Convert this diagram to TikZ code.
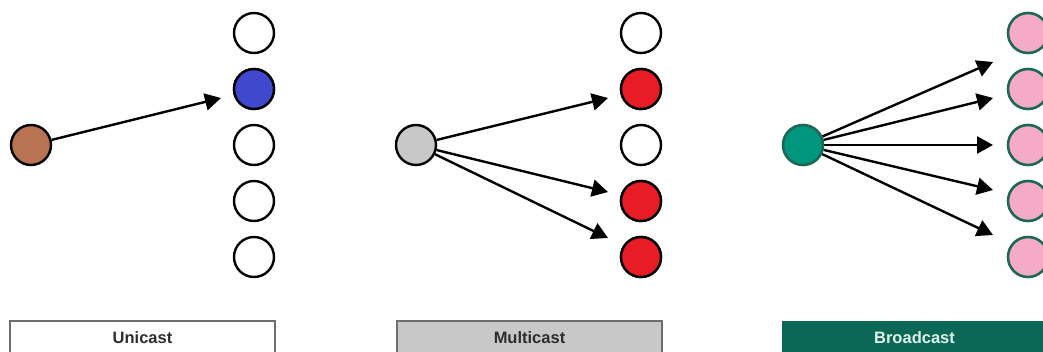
\documentclass[tikz,border=0pt]{standalone}
\usepackage{fontspec}
\setmainfont{Liberation Sans}
\usetikzlibrary{arrows.meta}
\definecolor{srcbrown}{RGB}{184,116,82}
\definecolor{hitblue}{RGB}{64,72,206}
\definecolor{hitred}{RGB}{232,28,36}
\definecolor{srcgray}{RGB}{200,200,200}
\definecolor{srcteal}{RGB}{0,150,126}
\definecolor{bcpink}{RGB}{245,170,200}
\definecolor{bcedge}{RGB}{28,104,84}
\definecolor{boxgreen}{RGB}{12,104,86}
\definecolor{boxedge}{RGB}{110,110,110}
\definecolor{labeltext}{RGB}{45,45,45}
\definecolor{mint}{RGB}{224,242,234}
\tikzset{
  host/.style={circle, draw=black, line width=2.4pt, minimum size=40pt, inner sep=0pt, fill=white},
  bchost/.style={host, draw=bcedge, line width=2.6pt, fill=bcpink},
  send/.style={line width=2.4pt, -{Triangle[length=16pt,width=17pt]}},
  caption/.style={draw=boxedge, line width=1.6pt},
  captext/.style={font=\bfseries\fontsize{16.5}{18}\selectfont, anchor=base, text=labeltext}
}
\begin{document}
\begin{tikzpicture}[x=1pt,y=-1pt]
\useasboundingbox (0,0) rectangle (1043,351);
\clip (0,0) rectangle (1043,351);

% ---- Unicast ----
\node[host, fill=srcbrown] (us) at (31,145) {};
\foreach \i/\y in {1/33,2/89,3/145,4/201,5/257}
  \node[host] (ur\i) at (254,\y) {};
\node[host, fill=hitblue] at (ur2) {};
\coordinate (ut2) at (221,98);
\draw[send] (us) -- (ut2);
\draw[caption, fill=white] (10,321) rectangle (275,370);
\node[captext] (ulab) at (142.5,343) {Unicast};

% ---- Multicast ----
\node[host, fill=srcgray] (ms) at (416,145) {};
\foreach \i/\y in {1/33,2/89,3/145,4/201,5/257}
  \node[host] (mr\i) at (641,\y) {};
\foreach \i in {2,4,5}
  \node[host, fill=hitred] at (mr\i) {};
\coordinate (mt2) at (608,98);
\coordinate (mt4) at (608,192);
\coordinate (mt5) at (608,238);
\foreach \i in {2,4,5}
  \draw[send] (ms) -- (mt\i);
\draw[caption, fill=srcgray] (397,321) rectangle (662,370);
\node[captext] (mlab) at (529.5,343) {Multicast};

% ---- Broadcast ----
\node[host, draw=bcedge, line width=2.6pt, fill=srcteal] (bs) at (803,145) {};
\foreach \i/\y in {1/33,2/89,3/145,4/201,5/257}
  \node[bchost] (br\i) at (1028,\y) {};
\coordinate (bt1) at (993,62);
\coordinate (bt2) at (993,98);
\coordinate (bt3) at (993,145);
\coordinate (bt4) at (993,190);
\coordinate (bt5) at (993,235);
\foreach \i in {1,...,5}
  \draw[send] (bs) -- (bt\i);
\fill[boxgreen] (782,321) rectangle (1060,370);
\node[captext, text=mint] (blab) at (914.5,343) {Broadcast};
\end{tikzpicture}
\end{document}
